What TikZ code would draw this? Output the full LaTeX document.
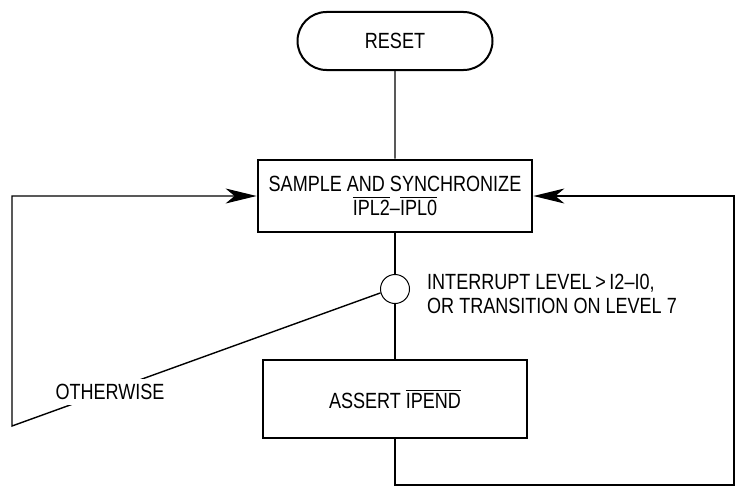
\documentclass[tikz,border=0pt]{standalone}
\usepackage{fontspec}
\setmainfont{Liberation Sans}[FakeStretch=0.82]
\usetikzlibrary{arrows.meta,shapes.misc}
\newcommand{\sigbar}[1]{\leavevmode\vbox{\hrule height 1pt\kern2.5pt\hbox{#1}}}

\begin{document}
\begin{tikzpicture}[x=1pt,y=-1pt,
  font=\fontsize{22}{24.5}\selectfont,
  term/.style={draw,rounded rectangle,line width=2pt,minimum width=195pt,minimum height=58pt,inner sep=0pt},
  procbox/.style={draw,rectangle,line width=2.8pt,align=center,inner sep=0pt},
  junc/.style={draw,circle,line width=1pt,minimum size=29pt,inner sep=0pt},
  flow/.style={line width=1.4pt},
  flowarrow/.style={-{Stealth[length=31pt,width=15pt,inset=9pt]}}]
  \useasboundingbox (0,0) rectangle (735,487);
  \node[term] (rst) at (395,41) {RESET};
  \node[procbox,minimum width=274pt,minimum height=72pt] (sync) at (395,196)
    {SAMPLE AND SYNCHRONIZE\\\sigbar{IPL2}–\sigbar{IPL0}};
  \node[junc] (dec) at (395,289) {};
  \node[procbox,minimum width=264pt,minimum height=78pt] (assert) at (395,399)
    {ASSERT \sigbar{IPEND}};
  \node[anchor=west,align=left,inner sep=0pt] (cond) at (427,294)
    {INTERRUPT LEVEL\,>\,I2–I0,\\OR TRANSITION ON LEVEL 7};
  \coordinate (lbot) at (12,426);
  \coordinate (abot) at (395,485);
  \coordinate (rbot) at (734,485);
  \draw[flow] (rst) -- (sync);
  \draw[flow] (sync) -- (dec);
  \draw[flow] (dec) -- (assert);
  \draw[flow,flowarrow] (assert) -- (abot) -- (rbot) |- (sync);
  \draw[flow,flowarrow] (dec.195) -- (lbot) |- (sync);
  \node[fill=white,inner sep=5pt] (oth) at (110,392) {OTHERWISE};
\end{tikzpicture}
\end{document}
